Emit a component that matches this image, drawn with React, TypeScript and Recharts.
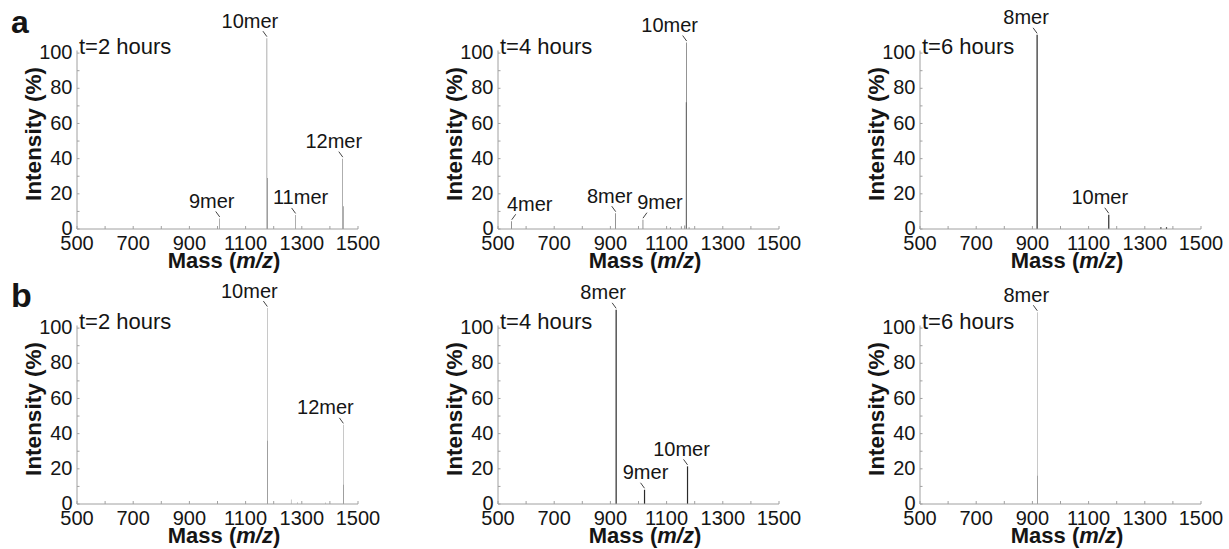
import React from 'react';
import {
  BarChart, Bar, XAxis, YAxis, ReferenceLine, ReferenceDot, LabelList,
} from 'recharts';

// peak lists: m/z, relative intensity (%), annotation
const A2H_MZ = [1008, 1176, 1177.5, 1278, 1446, 1447.5];
const A2H_INT = [6, 108.5, 29, 8, 40, 13];
const A2H_LABELS = ['9mer', '10mer', '', '11mer', '12mer', ''];

const A4H_MZ = [549, 919, 1016, 1113, 1152, 1165, 1169.5, 1171.5, 1180];
const A4H_INT = [4.4, 9, 5.3, 1, 1.5, 2, 72, 106, 1];
const A4H_LABELS = ['4mer', '8mer', '9mer', '', '', '', '', '10mer', ''];

const A6H_MZ = [917.5, 1172.5, 1358, 1378];
const A6H_INT = [110.4, 8.1, 1, 1];
const A6H_LABELS = ['8mer', '10mer', '', ''];

const B2H_MZ = [1177.5, 1178.5, 1262, 1284, 1384, 1448, 1449];
const B2H_INT = [111.4, 36, 2.5, 1, 0.8, 45, 11];
const B2H_LABELS = ['10mer', '', '', '', '', '12mer', ''];

const B4H_MZ = [919, 1020, 1173];
const B4H_INT = [110.4, 8.1, 21.4];
const B4H_LABELS = ['8mer', '9mer', '10mer'];

const B6H_MZ = [917.5, 918.5];
const B6H_INT = [109, 16];
const B6H_LABELS = ['8mer', ''];

const X_TICKS = [500, 600, 700, 800, 900, 1000, 1100, 1200, 1300, 1400, 1500];
const X_TICK_LABELS = [500, 700, 900, 1100, 1300, 1500];
const Y_TICKS = [0, 10, 20, 30, 40, 50, 60, 70, 80, 90, 100];
const Y_TICK_LABELS = [0, 20, 40, 60, 80, 100];

// horizontal shift of each annotation relative to its peak (px)
const NUDGE_A2H = { '9mer': -8, '10mer': -17, '11mer': 5, '12mer': -9 };
const NUDGE_A4H = { '4mer': 18, '8mer': -6, '9mer': 17, '10mer': -17 };
const NUDGE_A6H = { '8mer': -11, '10mer': -9 };
const NUDGE_B2H = { '10mer': -18, '12mer': -18 };
const NUDGE_B4H = { '8mer': -13, '9mer': 1, '10mer': -6 };
const NUDGE_B6H = { '8mer': -11 };

const FONT = '"Liberation Sans", Arial, sans-serif';
const INK = '#151515';
const AXIS = '#a0a0a0';
const PEAK = '#2a2a2a';

const W = 400;
const H = 275;
const AX_X = 80;   // y-axis position inside a panel
const AX_Y = 229;  // x-axis position inside a panel

const XTick = ({ x, y, payload }: any) => (
  <g>
    <line x1={x} y1={y} x2={x} y2={y - 3} stroke={AXIS} strokeWidth={1} />
    {X_TICK_LABELS.includes(payload.value) && (
      <text x={x} y={y + 21} textAnchor="middle" fontSize={20} fontFamily={FONT} fill={INK}>
        {payload.value}
      </text>
    )}
  </g>
);

const YTick = ({ x, y, payload }: any) => (
  <g>
    <line x1={x} y1={y} x2={x + 2.5} y2={y} stroke={AXIS} strokeWidth={1} />
    {Y_TICK_LABELS.includes(payload.value) && (
      <text x={x - 4.5} y={y + 6.2} textAnchor="end" fontSize={20} fontFamily={FONT} fill={INK}>
        {payload.value}
      </text>
    )}
  </g>
);

const peakLabel = (nudge: Record<string, number>) => (props: any) => {
  const { value } = props;
  if (!value) return null;
  const vb = props.viewBox || props;
  const cx = vb.x + vb.width / 2;
  const top = Math.min(vb.y, vb.y + vb.height);
  const dx = nudge[value] ?? -9;
  const lx = dx > 10 ? cx + 4 : cx - 4;
  return (
    <g>
      <line x1={lx} y1={top - 7} x2={cx} y2={top - 1.5} stroke="#444" strokeWidth={1} />
      <text x={cx + dx} y={top - 10.5} textAnchor="middle" fontSize={20} fontFamily={FONT} fill={INK}>
        {value}
      </text>
    </g>
  );
};

function Spectrum({ mz, intensity, labels, time, nudge, left, top }: any) {
  const data = mz.map((m: number, i: number) => ({ mz: m, intensity: intensity[i], label: labels[i] }));
  return (
    <div style={{ position: 'absolute', left, top }}>
      <BarChart width={W} height={H} data={data} margin={{ top: 32, right: 39, bottom: 0, left: 35 }}>
        <XAxis
          type="number"
          dataKey="mz"
          domain={[500, 1500]}
          ticks={X_TICKS}
          interval={0}
          height={46}
          stroke={AXIS}
          tickLine={false}
          tickSize={0}
          tickMargin={0}
          tick={<XTick />}
          label={{
            content: () => (
              <text x={AX_X + 147} y={AX_Y + 38.5} textAnchor="middle" fontSize={22} fontWeight="bold" fontFamily={FONT} fill={INK}>
                Mass (<tspan fontStyle="italic">m/z</tspan>)
              </text>
            ),
          }}
        />
        <YAxis
          type="number"
          domain={[0, 112]}
          ticks={Y_TICKS}
          interval={0}
          width={45}
          axisLine={false}
          tickLine={false}
          tickSize={0}
          tickMargin={0}
          tick={<YTick />}
          label={{
            content: () => (
              <text
                x={AX_X - 43.5}
                y={AX_Y - 95}
                transform={`rotate(-90, ${AX_X - 43.5}, ${AX_Y - 95})`}
                textAnchor="middle"
                dominantBaseline="central"
                fontSize={22.5}
                fontWeight="bold"
                fontFamily={FONT}
                fill={INK}
              >
                Intensity (%)
              </text>
            ),
          }}
        />
        <ReferenceLine segment={[{ x: 500, y: 0 }, { x: 500, y: 101.5 }]} stroke={AXIS} strokeWidth={1} />
        <ReferenceDot
          x={500}
          y={100}
          r={0}
          stroke="none"
          fill="none"
          label={{
            content: (p: any) => {
              const vb = p.viewBox || { x: AX_X, y: AX_Y - 176 };
              return (
                <text x={vb.x + 2} y={vb.y + 0.5} fontSize={22} fontFamily={FONT} fill={INK}>
                  {time}
                </text>
              );
            },
          }}
        />
        <Bar dataKey="intensity" barSize={1.2} fill={PEAK} isAnimationActive={false}>
          <LabelList dataKey="label" content={peakLabel(nudge)} />
        </Bar>
      </BarChart>
    </div>
  );
}

const COLS = [-2.7, 417.8, 840];
const ROWS = [0, 275.3];

export default function App() {
  return (
    <div style={{ position: 'absolute', left: 0, top: 0, width: 1229, height: 549, background: '#fff', fontFamily: FONT, overflow: 'hidden' }}>
      <Spectrum mz={A2H_MZ} intensity={A2H_INT} labels={A2H_LABELS} time="t=2 hours" nudge={NUDGE_A2H} left={COLS[0]} top={ROWS[0]} />
      <Spectrum mz={A4H_MZ} intensity={A4H_INT} labels={A4H_LABELS} time="t=4 hours" nudge={NUDGE_A4H} left={COLS[1]} top={ROWS[0]} />
      <Spectrum mz={A6H_MZ} intensity={A6H_INT} labels={A6H_LABELS} time="t=6 hours" nudge={NUDGE_A6H} left={COLS[2]} top={ROWS[0]} />
      <Spectrum mz={B2H_MZ} intensity={B2H_INT} labels={B2H_LABELS} time="t=2 hours" nudge={NUDGE_B2H} left={COLS[0]} top={ROWS[1]} />
      <Spectrum mz={B4H_MZ} intensity={B4H_INT} labels={B4H_LABELS} time="t=4 hours" nudge={NUDGE_B4H} left={COLS[1]} top={ROWS[1]} />
      <Spectrum mz={B6H_MZ} intensity={B6H_INT} labels={B6H_LABELS} time="t=6 hours" nudge={NUDGE_B6H} left={COLS[2]} top={ROWS[1]} />
      <svg width={1229} height={549} style={{ position: 'absolute', left: 0, top: 0, pointerEvents: 'none' }}>
        <text x={11} y={33} fontSize={32} fontWeight="bold" fontFamily={FONT} fill={INK}>a</text>
        <text x={11} y={307} fontSize={34} fontWeight="bold" fontFamily={FONT} fill={INK}>b</text>
      </svg>
    </div>
  );
}
